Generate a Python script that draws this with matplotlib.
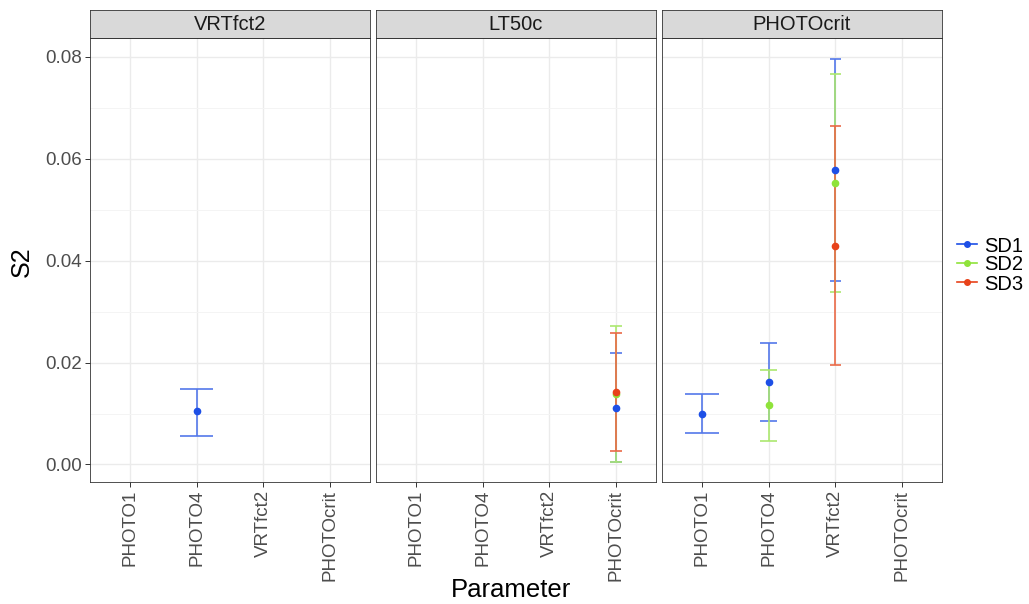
import matplotlib.pyplot as plt
from matplotlib.lines import Line2D

plt.rcParams['font.family'] = ['Liberation Sans', 'DejaVu Sans']

facets = ['VRTfct2', 'LT50c', 'PHOTOcrit']
params = ['PHOTO1', 'PHOTO4', 'VRTfct2', 'PHOTOcrit']
series = ['SD1', 'SD2', 'SD3']
colors = {'SD1': '#1d4fe6', 'SD2': '#8fe33a', 'SD3': '#e8421a'}
bar_colors = {'SD1': '#5478ea', 'SD2': '#ace86f', 'SD3': '#ea6a48'}

# (facet, parameter, series, mean, lower, upper)
facet_col = ['VRTfct2', 'LT50c', 'LT50c', 'LT50c',
             'PHOTOcrit', 'PHOTOcrit', 'PHOTOcrit', 'PHOTOcrit', 'PHOTOcrit', 'PHOTOcrit']
param_col = ['PHOTO4', 'PHOTOcrit', 'PHOTOcrit', 'PHOTOcrit',
             'PHOTO1', 'PHOTO4', 'PHOTO4', 'VRTfct2', 'VRTfct2', 'VRTfct2']
sd_col = ['SD1', 'SD1', 'SD2', 'SD3',
          'SD1', 'SD1', 'SD2', 'SD1', 'SD2', 'SD3']
mean_col = [0.0104, 0.0111, 0.0138, 0.0142,
            0.0100, 0.0162, 0.0116, 0.0578, 0.0552, 0.0429]
lower_col = [0.0055, 0.0004, 0.0005, 0.0026,
             0.0062, 0.0086, 0.0046, 0.0360, 0.0338, 0.0195]
upper_col = [0.0149, 0.0218, 0.0271, 0.0259,
             0.0138, 0.0238, 0.0185, 0.0795, 0.0767, 0.0664]

fig = plt.figure(figsize=(10.29, 6.04), dpi=100)
W, H = 1029, 604
lefts = [90, 376, 662]
pw = 280
top, bottom = 38, 481.5
strip_h = 28

rows = list(zip(facet_col, param_col, sd_col, mean_col, lower_col, upper_col))

for i, facet in enumerate(facets):
    ax = fig.add_axes([lefts[i] / W, (H - bottom) / H, pw / W, (bottom - top) / H])
    ax.set_xlim(0.4, len(params) + 0.6)
    ax.set_ylim(-0.00334, 0.0837)
    ax.set_yticks([0, 0.02, 0.04, 0.06, 0.08])
    ax.set_yticks([0.01, 0.03, 0.05, 0.07], minor=True)
    ax.set_xticks(range(1, len(params) + 1))
    ax.set_xticklabels(params, rotation=90, fontsize=13.5, color='#4d4d4d')
    ax.grid(True, which='major', color='#ebebeb', lw=1.0)
    ax.grid(True, which='minor', axis='y', color='#f4f4f4', lw=0.7)
    ax.set_axisbelow(True)
    ax.tick_params(axis='both', length=3.5, color='#333333', width=0.7, pad=2.5)
    ax.tick_params(axis='y', which='minor', length=0)
    if i == 0:
        ax.set_yticklabels(['0.00', '0.02', '0.04', '0.06', '0.08'],
                           fontsize=13.5, color='#4d4d4d')
    else:
        ax.tick_params(axis='y', labelleft=False, length=0)
    for s in ax.spines.values():
        s.set_color('#333333')
        s.set_linewidth(0.6)

    sub = [r for r in rows if r[0] == facet]
    # error bars first, points on top
    for sd in series:
        for f, p, s, m, lo, hi in sub:
            if s != sd:
                continue
            n = sum(1 for r in sub if r[1] == p)
            x = params.index(p) + 1
            hw = 0.25 / n
            c = bar_colors[s]
            ax.vlines(x, lo, hi, color=c, lw=1.2)
            ax.hlines([lo, hi], x - hw, x + hw, color=c, lw=1.2)
    for sd in series:
        for f, p, s, m, lo, hi in sub:
            if s == sd:
                ax.plot(params.index(p) + 1, m, 'o', color=colors[s], ms=4.5, zorder=5)

    # facet strip
    sax = fig.add_axes([lefts[i] / W, (H - top) / H, pw / W, strip_h / H])
    sax.set_xticks([])
    sax.set_yticks([])
    sax.set_facecolor('#d9d9d9')
    for s in sax.spines.values():
        s.set_color('#333333')
        s.set_linewidth(0.6)
    sax.text(0.5, 0.47, facet, ha='center', va='center', fontsize=14.5,
             color='#1a1a1a', transform=sax.transAxes)

fig.text(22 / W, 1 - 262 / H, 'S2', rotation=90, ha='center', va='center', fontsize=18)
fig.text(511 / W, 1 - 590 / H, 'Parameter', ha='center', va='center', fontsize=18.5)

handles = [Line2D([0], [0], color=colors[s], marker='o', ms=4, lw=1.2) for s in series]
fig.legend(handles, series, loc='center left', bbox_to_anchor=(947 / W, 1 - 265 / H),
           frameon=False, fontsize=14.5, handlelength=1.0, handletextpad=0.35,
           labelspacing=0.0, borderpad=0)

fig.savefig('out.png', dpi=100)
